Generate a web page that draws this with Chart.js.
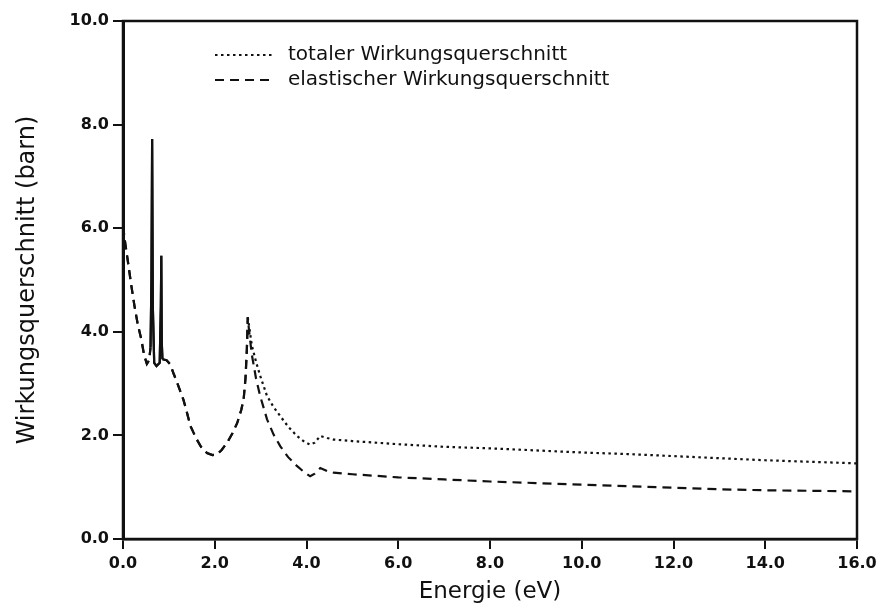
<!DOCTYPE html>
<html>
<head>
<meta charset="utf-8">
<script src="https://cdn.jsdelivr.net/npm/chart.js@4.4.1/dist/chart.umd.min.js"></script>
<style>
  html, body { margin: 0; padding: 0; background: #fff; }
  #wrap { width: 885px; height: 612px; }
</style>
</head>
<body>
<div id="wrap"><canvas id="c" width="885" height="612"></canvas></div>
<script>
// ---- data ----
const seriesLabels = ["totaler Wirkungsquerschnitt", "elastischer Wirkungsquerschnitt"];
const xTickValues = [0, 2, 4, 6, 8, 10, 12, 14, 16];
const yTickValues = [0, 2, 4, 6, 8, 10];

const energyTotal = [0.00,0.05,0.10,0.18,0.25,0.32,0.40,0.46,0.52,0.57,0.60,0.62,0.635,0.65,0.68,0.73,0.80,0.825,0.835,0.845,0.86,0.95,1.03,1.10,1.18,1.25,1.32,1.40,1.47,1.55,1.61,1.70,1.83,1.95,2.05,2.15,2.27,2.38,2.49,2.58,2.63,2.67,2.70,2.72,
  2.75,2.81,2.90,2.99,3.14,3.28,3.43,3.60,3.79,3.95,4.08,4.18,4.30,4.45,4.59,5.0,6.0,7.0,8.0,9.0,10.0,11.0,12.0,13.0,14.0,15.0,16.0];
const sigmaTotal = [6.05,5.70,5.40,4.90,4.50,4.15,3.85,3.55,3.38,3.45,3.70,5.00,7.72,4.50,3.40,3.34,3.40,4.50,5.47,3.80,3.47,3.45,3.37,3.20,3.02,2.85,2.68,2.42,2.18,2.03,1.92,1.78,1.66,1.62,1.63,1.72,1.86,2.03,2.24,2.50,2.70,3.10,3.66,4.28,
  4.10,3.73,3.42,3.15,2.76,2.55,2.37,2.17,1.99,1.88,1.82,1.86,1.99,1.95,1.92,1.89,1.83,1.78,1.75,1.71,1.67,1.64,1.60,1.56,1.52,1.49,1.46];

const energyElastic = [0.00,0.05,0.10,0.18,0.25,0.32,0.40,0.46,0.52,0.57,0.60,0.62,0.635,0.65,0.68,0.73,0.80,0.825,0.835,0.845,0.86,0.95,1.03,1.10,1.18,1.25,1.32,1.40,1.47,1.55,1.61,1.70,1.83,1.95,2.05,2.15,2.27,2.38,2.49,2.58,2.63,2.67,2.70,2.72,
  2.75,2.81,2.90,2.99,3.14,3.28,3.43,3.60,3.79,3.95,4.08,4.18,4.30,4.45,4.59,5.0,6.0,7.0,8.0,9.0,10.0,11.0,12.0,13.0,14.0,15.0,16.0];
const sigmaElastic = [6.05,5.70,5.40,4.90,4.50,4.15,3.85,3.55,3.38,3.45,3.70,5.00,7.72,4.50,3.40,3.34,3.40,4.50,5.47,3.80,3.47,3.45,3.37,3.20,3.02,2.85,2.68,2.42,2.18,2.03,1.92,1.78,1.66,1.62,1.63,1.72,1.86,2.03,2.24,2.50,2.70,3.10,3.66,4.28,
  4.00,3.55,3.10,2.76,2.31,2.02,1.79,1.58,1.41,1.29,1.21,1.26,1.37,1.31,1.28,1.25,1.19,1.15,1.11,1.08,1.05,1.02,0.99,0.96,0.94,0.93,0.92];

// ---- chart ----
const toXY = (xs, ys) => xs.map((x, i) => ({ x: x, y: ys[i] }));
const DOTS = [2.5, 3.5];
const DASHES = [9, 6];
const spikeSolid = ctx => (ctx.p0.parsed.x >= 0.58 && ctx.p1.parsed.x <= 0.87) ? [] : undefined;
// where both curves coincide, draw the total with the same dashes so they overlap exactly
const totalDash = ctx => {
  const s = spikeSolid(ctx);
  if (s) return s;
  return ctx.p1.parsed.x <= 2.72 ? DASHES : undefined;
};

const FONT = "'DejaVu Sans', 'Liberation Sans', sans-serif";

const frameAndLegend = {
  id: 'frameAndLegend',
  afterDatasetsDraw(chart) {
    const { ctx, chartArea: a } = chart;
    ctx.save();
    ctx.strokeStyle = '#111';
    ctx.lineWidth = 2.5;
    ctx.setLineDash([]);
    ctx.strokeRect(a.left, a.top, a.right - a.left, a.bottom - a.top);
    // legend inside plot area
    const rows = [55, 80];
    chart.data.datasets.forEach((ds, i) => {
      const y = rows[i];
      ctx.beginPath();
      ctx.lineWidth = ds.borderWidth;
      ctx.strokeStyle = ds.borderColor;
      ctx.setLineDash(ds.borderDash);
      ctx.moveTo(a.left + 92, y);
      ctx.lineTo(a.left + 150, y);
      ctx.stroke();
      ctx.setLineDash([]);
      ctx.fillStyle = '#111';
      ctx.font = "20px " + FONT;
      ctx.textBaseline = 'middle';
      ctx.textAlign = 'left';
      ctx.fillText(ds.label, a.left + 165, y);
    });
    ctx.restore();
  }
};

new Chart(document.getElementById('c'), {
  type: 'line',
  data: {
    datasets: [
      {
        label: seriesLabels[0],
        data: toXY(energyTotal, sigmaTotal),
        borderColor: '#111',
        borderWidth: 2.2,
        borderDash: DOTS,
        pointRadius: 0,
        tension: 0,
        fill: false,
        segment: { borderDash: totalDash }
      },
      {
        label: seriesLabels[1],
        data: toXY(energyElastic, sigmaElastic),
        borderColor: '#111',
        borderWidth: 2.2,
        borderDash: DASHES,
        pointRadius: 0,
        tension: 0,
        fill: false,
        segment: { borderDash: spikeSolid }
      }
    ]
  },
  options: {
    responsive: false,
    animation: false,
    events: [],
    layout: { padding: { left: 0, right: 28, top: 21, bottom: 0 } },
    plugins: { legend: { display: false }, tooltip: { enabled: false }, title: { display: false } },
    scales: {
      x: {
        type: 'linear',
        min: 0, max: 16,
        afterFit: s => { s.height = 73; },
        afterBuildTicks: s => { s.ticks = xTickValues.map(v => ({ value: v })); },
        ticks: {
          color: '#111',
          font: { family: FONT, size: 16, weight: 'bold' },
          padding: 5,
          maxRotation: 0,
          callback: v => Number(v).toFixed(1)
        },
        grid: { display: true, drawOnChartArea: false, drawTicks: true, tickLength: 10, color: '#111', lineWidth: 2 },
        border: { display: true, color: '#111', width: 2.5 },
        title: { display: true, text: 'Energie (eV)', color: '#111', font: { family: FONT, size: 23 }, padding: { top: 0, bottom: 6 } }
      },
      y: {
        type: 'linear',
        min: 0, max: 10,
        afterFit: s => { s.width = 123; },
        afterBuildTicks: s => { s.ticks = yTickValues.map(v => ({ value: v })); },
        ticks: {
          color: '#111',
          font: { family: FONT, size: 16, weight: 'bold' },
          padding: 4,
          callback: v => Number(v).toFixed(1)
        },
        grid: { display: true, drawOnChartArea: false, drawTicks: true, tickLength: 10, color: '#111', lineWidth: 2 },
        border: { display: true, color: '#111', width: 3 },
        title: { display: true, text: 'Wirkungsquerschnitt (barn)', color: '#111', font: { family: FONT, size: 24 }, padding: { top: 13, bottom: 0 } }
      }
    }
  },
  plugins: [frameAndLegend]
});
</script>
</body>
</html>
